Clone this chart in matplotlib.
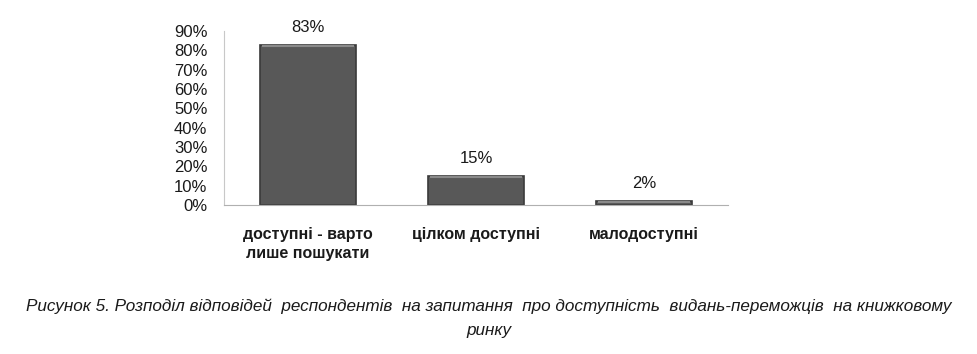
import matplotlib
matplotlib.use("Agg")
import matplotlib.pyplot as plt
from matplotlib import font_manager

categories = ["доступні - варто\nлише пошукати", "цілком доступні", "малодоступні"]
shares = [0.83, 0.15, 0.02]
value_labels = ["83%", "15%", "2%"]
ytick_values = [0.0, 0.1, 0.2, 0.3, 0.4, 0.5, 0.6, 0.7, 0.8, 0.9]
caption_lines = [
    "Рисунок 5. Розподіл відповідей  респондентів  на запитання  про доступність  видань-переможців  на книжковому",
    "ринку",
]

names = {f.name for f in font_manager.fontManager.ttflist}
narrow = "Liberation Sans Narrow" if "Liberation Sans Narrow" in names else "Liberation Sans"

plt.rcParams["font.family"] = ["Liberation Sans", "DejaVu Sans"]

fig = plt.figure(figsize=(9.77, 3.54), dpi=100)
# axes: x 224..728 px, y 31..205 px (from top)
ax = fig.add_axes([224 / 977, 1 - 205 / 354, 504 / 977, 174 / 354])

x = range(len(categories))
bars = ax.bar(x, shares, width=0.57, color="#585858", edgecolor="#3a3a3a", linewidth=1.2)
# light bevel strip on top of each bar
for b in bars:
    ax.plot([b.get_x() + 0.01, b.get_x() + b.get_width() - 0.01],
            [b.get_height() - 0.006] * 2, color="#8a8a8a", lw=1.5, solid_capstyle="butt")

for i, (v, lab) in enumerate(zip(shares, value_labels)):
    ax.text(i, v + 0.05, lab, ha="center", va="bottom", fontsize=12, color="#1a1a1a")

ax.set_xlim(-0.5, len(categories) - 0.5)
ax.set_ylim(0, 0.9)
ax.set_yticks(ytick_values)
ax.set_yticklabels([f"{int(round(t * 100))}%" for t in ytick_values], fontsize=12, color="#1a1a1a")
ax.tick_params(axis="y", length=0, pad=12)
ax.set_xticks(list(x))
ax.set_xticklabels(categories, fontsize=11.5, fontweight="bold", color="#1a1a1a", linespacing=1.3)
ax.tick_params(axis="x", length=0, pad=16)

for s in ["top", "right"]:
    ax.spines[s].set_visible(False)
ax.spines["left"].set_color("#c8c8c8")
ax.spines["bottom"].set_color("#b0b0b0")

fig.text(0.5, 1 - 306 / 354, caption_lines[0], ha="center", va="center",
         fontsize=12.3, style="italic", family=[narrow, "DejaVu Sans"], color="#1a1a1a")
fig.text(0.5, 1 - 330 / 354, caption_lines[1], ha="center", va="center",
         fontsize=12.3, style="italic", family=[narrow, "DejaVu Sans"], color="#1a1a1a")

fig.savefig("out.png", dpi=100, facecolor="white")
